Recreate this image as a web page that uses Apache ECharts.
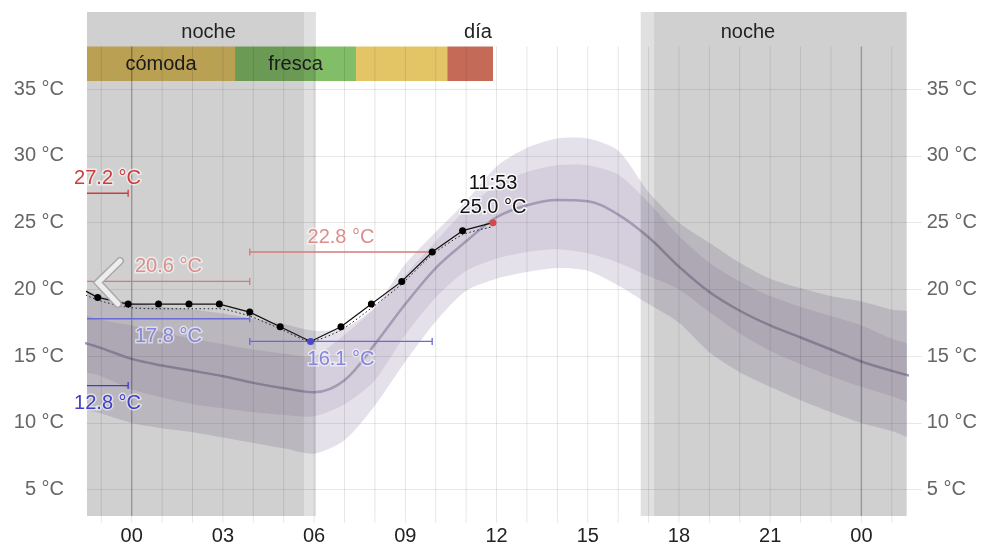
<!DOCTYPE html>
<html><head><meta charset="utf-8">
<script src="https://cdn.jsdelivr.net/npm/echarts@6/dist/echarts.min.js"></script>
<style>html,body{margin:0;padding:0;background:#fff}#c{width:985px;height:546px}</style>
</head><body><div id="c"></div>
<script>
// ---- axis ranges / ticks ----
const X_MIN = -1.47, X_MAX = 25.49;
const Y_MIN = 3.03, Y_MAX = 38.19;
const xTickLabels = [0, 3, 6, 9, 12, 15, 18, 21, 24];
const yTickLabels = [5, 10, 15, 20, 25, 30, 35];
const gridHours = [-1,0,1,2,3,4,5,6,7,8,9,10,11,12,13,14,15,16,17,18,19,20,21,22,23,24,25];
const midnightHours = [0, 24];

// ---- forecast bands (hourly) ----
const bandHours  = [-2,-1,0,1,2,3,4,5,6,7,8,9,10,11,12,13,14,15,16,17,18,19,20,21,22,23,24,25,26];
const outerUpper = [20.1,19.5,19.0,18.7,18.5,18.2,17.8,17.4,16.9,17.1,18.7,21.9,24.3,26.6,29.2,30.6,31.3,31.3,30.4,27.3,25.0,23.5,22.0,20.8,20.1,19.5,19.1,18.5,18.0];
const innerUpper = [18.2,17.7,17.3,16.8,16.3,15.9,15.5,15.2,15.0,16.6,18.6,21.1,23.6,26.0,27.8,28.8,29.3,29.3,28.6,26.5,24.0,22.0,20.6,19.5,18.7,18.0,17.3,16.3,15.4];
const median     = [16.3,15.6,14.8,14.3,13.9,13.5,13.0,12.6,12.3,13.2,15.9,18.9,21.6,23.6,25.4,26.3,26.7,26.6,25.6,23.9,21.7,19.8,18.4,17.3,16.4,15.5,14.6,13.9,13.3];
const innerLower = [14.3,13.5,12.5,11.9,11.4,11.1,10.8,10.6,10.5,11.4,13.2,16.6,19.4,21.4,22.3,22.8,23.0,22.7,22.0,21.0,20.0,18.3,16.7,15.4,14.4,13.5,12.7,12.0,11.4];
const outerLower = [11.5,10.7,10.0,9.6,9.3,8.9,8.5,8.1,7.7,8.7,11.3,14.6,17.6,19.9,20.8,21.3,21.6,21.4,20.3,18.9,17.5,15.3,13.8,12.7,11.7,10.8,10.0,9.4,8.8];

// ---- observations (hh:53) ----
const obsHours = [-2.117,-1.117,-0.117,0.883,1.883,2.883,3.883,4.883,5.883,6.883,7.883,8.883,9.883,10.883,11.883];
const obsTemp  = [20.6,19.4,18.9,18.9,18.9,18.9,18.3,17.2,16.1,17.2,18.9,20.6,22.8,24.4,25.0];
const obsSmooth= [20.2,19.2,18.65,18.55,18.55,18.55,18.0,17.05,16.1,16.95,18.6,20.4,22.6,24.1,24.7];

// ---- min / max ranges ----
const rangeFrom  = [-12.117,-12.117,-2.117,-2.117,3.883,3.883];
const rangeTo    = [-0.117,-0.117,3.883,3.883,9.883,9.883];
const rangeValue = [27.2,12.8,20.6,17.8,22.8,16.1];
const rangeIsMax = [1,0,1,0,1,0];
const rangeStrong= [1,1,0,0,0,0];

// ---- day / night ----
const shadeFrom = [-2.0, 5.67, 16.74, 17.18];
const shadeTo   = [5.67, 6.06, 17.18, 27.0];
const shadeDark = [1, 0, 0, 1];
const periodLabels = ['noche', 'día', 'noche'];
const periodLabelHours = [2.53, 11.39, 20.27];

// ---- comfort bar ----
const comfortFrom  = [-1.47, 3.40, 7.38, 10.38];
const comfortTo    = [3.40, 7.38, 10.38, 11.883];
const comfortKind  = [0, 1, 0, 2];
const comfortLabels= ['cómoda', 'fresca', '', ''];

const FONT = 'Liberation Sans, Arial, sans-serif';
const TOPBAND = 34.5, BARH = 34.5;
const comfortColors = ['#e4c566', '#82bd68', '#c66a58'];
const clampX = v => Math.max(X_MIN, Math.min(X_MAX, v));

function bandSeries(up, lo, fill, z) {
  return {
    type: 'custom', z: z, silent: true, clip: true,
    data: [[0]],
    renderItem(params, api) {
      const pts = [];
      for (let i = 0; i < bandHours.length; i++) pts.push(api.coord([bandHours[i], up[i]]));
      for (let i = bandHours.length - 1; i >= 0; i--) pts.push(api.coord([bandHours[i], lo[i]]));
      return { type: 'polygon', shape: { points: pts, smooth: 0.25 }, style: { fill: fill } };
    }
  };
}

const minIdx = obsTemp.indexOf(Math.min(...obsTemp.slice(1)));
const lastIdx = obsTemp.length - 1;
function hhmm(h){ const hh=Math.floor(h); const mm=Math.round((h-hh)*60); return String(hh).padStart(2,'0')+':'+String(mm).padStart(2,'0'); }

const obsData = obsHours.map((h, i) => {
  const d = { value: [h, obsTemp[i]] };
  if (i === minIdx) d.itemStyle = { color: '#4848cc' };
  if (i === lastIdx) {
    d.itemStyle = { color: '#d44a4a' };
    d.label = { show: true, position: 'top', distance: 0,
      formatter: hhmm(h) + '\n' + obsTemp[i].toFixed(1) + ' °C',
      color: '#111', fontSize: 20, fontFamily: FONT, lineHeight: 24,
      textBorderColor: 'rgba(255,255,255,0.8)', textBorderWidth: 3 };
  }
  return d;
});

const chart = echarts.init(document.getElementById('c'), null, { renderer: 'canvas' });
chart.setOption({
  animation: false,
  grid: { left: 87, right: 78.3, top: 46.5, bottom: 27.7, containLabel: false },
  xAxis: {
    type: 'value', min: X_MIN, max: X_MAX,
    axisLine: { show: false },
    axisTick: { show: false },
    splitLine: { show: false },
    axisLabel: { customValues: xTickLabels, margin: 10, color: '#222', fontSize: 20, fontFamily: FONT,
      formatter: v => String(((v % 24) + 24) % 24).padStart(2, '0') }
  },
  yAxis: [{
    type: 'value', min: Y_MIN, max: Y_MAX, position: 'left',
    axisLine: { show: false },
    axisTick: { show: true, length: 20, customValues: yTickLabels, lineStyle: { color: '#e8e8e8' } },
    axisLabel: { customValues: yTickLabels, margin: 23, color: '#666', fontSize: 20, fontFamily: FONT, formatter: v => v + ' °C' },
    splitLine: { show: true, lineStyle: { color: '#e8e8e8' } }
  }, {
    type: 'value', min: Y_MIN, max: Y_MAX, position: 'right',
    axisLine: { show: false },
    axisTick: { show: true, length: 15, customValues: yTickLabels, lineStyle: { color: '#e8e8e8' } },
    axisLabel: { customValues: yTickLabels, margin: 20, color: '#666', fontSize: 20, fontFamily: FONT, formatter: v => v + ' °C' },
    splitLine: { show: false }
  }],
  series: [
    bandSeries(outerUpper, outerLower, 'rgba(100,80,130,0.17)', 1),
    bandSeries(innerUpper, innerLower, 'rgba(100,80,130,0.13)', 1),
    {
      type: 'line', z: 2, silent: true, clip: true, smooth: 0.35, showSymbol: false,
      data: bandHours.map((h, i) => [h, median[i]]),
      lineStyle: { color: '#a39ab3', width: 2.5 }
    },
    // comfort bar
    {
      type: 'custom', z: 2, silent: true, clip: false,
      data: comfortFrom.map((f, i) => [f, comfortTo[i], comfortKind[i], i]),
      encode: { x: [0, 1] },
      renderItem(params, api) {
        const cs = params.coordSys;
        const a = clampX(api.value(0)), b = clampX(api.value(1));
        const x1 = api.coord([a, Y_MIN])[0], x2 = api.coord([b, Y_MIN])[0];
        const i = api.value(3);
        const children = [{ type: 'rect', shape: { x: x1, y: cs.y, width: x2 - x1, height: BARH },
          style: { fill: comfortColors[api.value(2)] } }];
        if (comfortLabels[i]) children.push({ type: 'text', style: { text: comfortLabels[i], x: (x1 + x2) / 2, y: cs.y + BARH / 2 + 1,
          align: 'center', verticalAlign: 'middle', fill: '#222', font: '20px ' + FONT } });
        return { type: 'group', children };
      }
    },
    // hour grid lines
    {
      type: 'custom', z: 3, silent: true, clip: false,
      data: gridHours.map(h => [h]), encode: { x: 0 },
      renderItem(params, api) {
        const cs = params.coordSys;
        const h = api.value(0);
        const x = api.coord([h, Y_MIN])[0];
        const mid = midnightHours.indexOf(h) >= 0;
        return { type: 'group', children: [
          { type: 'line', shape: { x1: x, y1: cs.y, x2: x, y2: cs.y + cs.height }, style: { stroke: mid ? 'rgba(0,0,0,0.28)' : 'rgba(0,0,0,0.1)', lineWidth: mid ? 1.4 : 1 } },
          { type: 'line', shape: { x1: x, y1: cs.y + cs.height, x2: x, y2: cs.y + cs.height + 7 }, style: { stroke: 'rgba(0,0,0,0.09)', lineWidth: 1 } }
        ] };
      }
    },
    // night shading
    {
      type: 'custom', z: 4, silent: true, clip: false,
      data: shadeFrom.map((f, i) => [f, shadeTo[i], shadeDark[i]]),
      encode: { x: [0, 1] },
      renderItem(params, api) {
        const cs = params.coordSys;
        const a = clampX(api.value(0)), b = clampX(api.value(1));
        const x1 = api.coord([a, Y_MIN])[0], x2 = api.coord([b, Y_MIN])[0];
        return { type: 'rect', shape: { x: x1, y: cs.y - TOPBAND, width: x2 - x1, height: cs.height + TOPBAND },
          style: { fill: api.value(2) ? 'rgba(0,0,0,0.185)' : 'rgba(0,0,0,0.12)' } };
      }
    },
    // period labels
    {
      type: 'custom', z: 6, silent: true, clip: false,
      data: periodLabelHours.map((h, i) => [h, i]), encode: { x: 0 },
      renderItem(params, api) {
        const cs = params.coordSys;
        const x = api.coord([api.value(0), Y_MIN])[0];
        return { type: 'text', style: { text: periodLabels[api.value(1)], x: x, y: cs.y - TOPBAND / 2 + 3,
          align: 'center', verticalAlign: 'middle', fill: '#222', font: '20px ' + FONT } };
      }
    },
    // min/max ranges
    {
      type: 'custom', z: 5, silent: true, clip: false,
      data: rangeFrom.map((f, i) => [f, rangeTo[i], rangeValue[i], rangeIsMax[i], rangeStrong[i]]),
      encode: { x: [0, 1], y: 2 },
      renderItem(params, api) {
        const f = api.value(0), t = api.value(1), v = api.value(2);
        const isMax = api.value(3), strong = api.value(4);
        const a = clampX(f), b = clampX(t);
        const p1 = api.coord([a, v]), p2 = api.coord([b, v]);
        const lineCol = isMax ? (strong ? '#cc3d3d' : '#d27a7a') : (strong ? '#4040c4' : '#6a6ad4');
        const txtCol = isMax ? (strong ? '#cc3d3d' : '#dc8e8e') : (strong ? '#4040c4' : '#8686dc');
        const ch = [{ type: 'line', shape: { x1: p1[0], y1: p1[1], x2: p2[0], y2: p2[1] }, style: { stroke: lineCol, lineWidth: 1.3 } }];
        if (f >= X_MIN) ch.push({ type: 'line', shape: { x1: p1[0], y1: p1[1] - 3.5, x2: p1[0], y2: p1[1] + 3.5 }, style: { stroke: lineCol, lineWidth: 1.3 } });
        if (t <= X_MAX) ch.push({ type: 'line', shape: { x1: p2[0], y1: p2[1] - 3.5, x2: p2[0], y2: p2[1] + 3.5 }, style: { stroke: lineCol, lineWidth: 1.3 } });
        ch.push({ type: 'text', z2: 10, style: { text: v.toFixed(1) + ' °C', x: (p1[0] + p2[0]) / 2, y: p1[1] + (isMax ? -15 : 18),
          align: 'center', verticalAlign: 'middle', fill: txtCol, font: '20px ' + FONT,
          stroke: 'rgba(255,255,255,0.55)', lineWidth: 3 } });
        return { type: 'group', children: ch };
      }
    },
    // smoothed obs (dotted)
    {
      type: 'line', z: 6, silent: true, clip: true, showSymbol: false, smooth: 0.2,
      data: obsHours.map((h, i) => [h, obsSmooth[i]]),
      lineStyle: { color: '#222', width: 1, type: [1.5, 2.5] }
    },
    // observations
    {
      type: 'line', z: 7, silent: true, clip: true, symbol: 'circle', symbolSize: 7,
      data: obsData,
      itemStyle: { color: '#000' },
      lineStyle: { color: '#111', width: 1.2 }
    }
  ],
  graphic: [
    { type: 'polyline', z: 100, shape: { points: [[120, 261], [98, 282.5], [118, 304]] },
      style: { stroke: '#a9a9a9', lineWidth: 8, fill: null, lineCap: 'round', lineJoin: 'miter' } },
    { type: 'polyline', z: 101, shape: { points: [[120, 261], [98, 282.5], [118, 304]] },
      style: { stroke: 'rgba(240,240,240,0.95)', lineWidth: 5, fill: null, lineCap: 'round', lineJoin: 'miter' } }
  ]
});
</script></body></html>
